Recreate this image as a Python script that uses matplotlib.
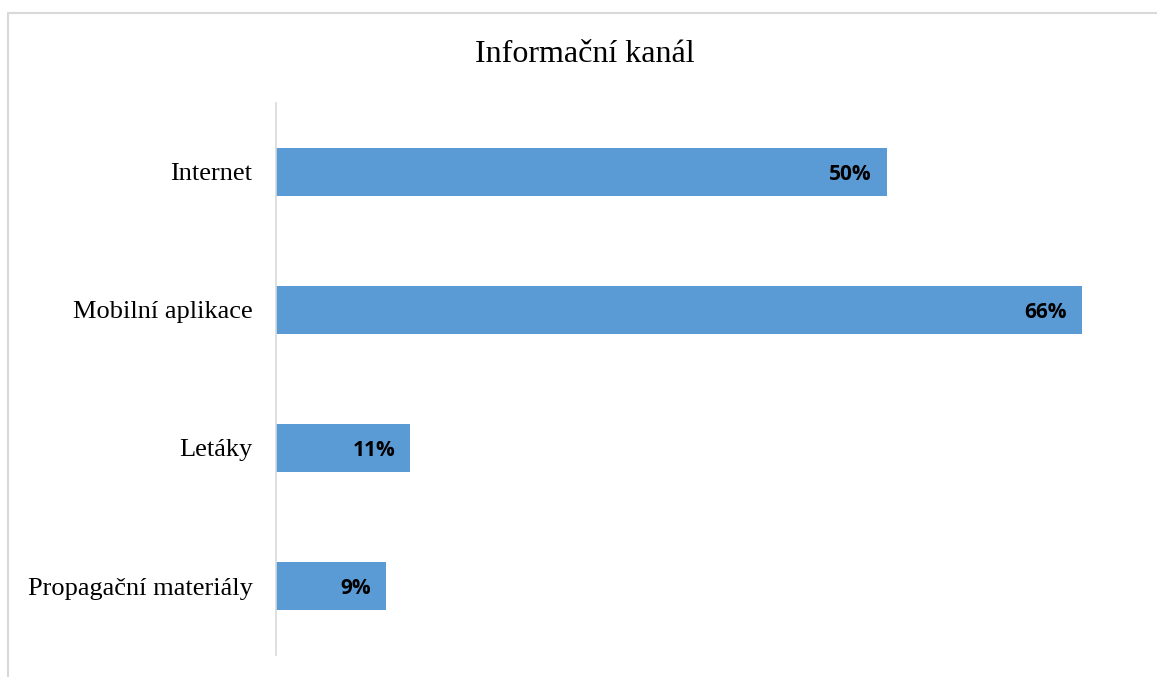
import matplotlib.pyplot as plt
from matplotlib.patches import Rectangle

categories = ["Internet", "Mobilní aplikace", "Letáky", "Propagační materiály"]
values = [0.50, 0.66, 0.11, 0.09]
labels = ["50%", "66%", "11%", "9%"]

W, H = 1157, 677
fig = plt.figure(figsize=(W / 100, H / 100), dpi=100)

# light chart border (cut off at right and bottom like the screenshot)
fig.patches.append(Rectangle((8 / W, -0.05), 1.1, 1 - 13 / H + 0.05,
                             transform=fig.transFigure, fill=False,
                             edgecolor="#D9D9D9", linewidth=1.5))

ax = fig.add_axes([276 / W, 1 - 655 / H, (1131 - 276) / W, (655 - 103) / H])
ypos = range(len(categories))
ax.barh(ypos, values, height=0.35, color="#5B9BD5")
ax.set_xlim(0, 0.7)
ax.set_ylim(3.5, -0.5)
ax.set_yticks(list(ypos))
ax.set_yticklabels(categories, family="Liberation Serif", fontsize=19)
ax.tick_params(axis="y", length=0, pad=17)
ax.set_xticks([])
for s in ["top", "right", "bottom"]:
    ax.spines[s].set_visible(False)
ax.spines["left"].set_color("#D9D9D9")
ax.spines["left"].set_linewidth(1.2)

for i, (v, t) in enumerate(zip(values, labels)):
    ax.annotate(t, (v, i), xytext=(-11, -1.5), textcoords="offset points",
                ha="right", va="center", fontsize=15, fontweight="bold",
                family="Open Sans", color="black")

fig.text(585 / W, 1 - 55 / H, "Informační kanál", family="Liberation Serif",
         fontsize=23, ha="center", va="center")

fig.savefig("out.png", dpi=100)
